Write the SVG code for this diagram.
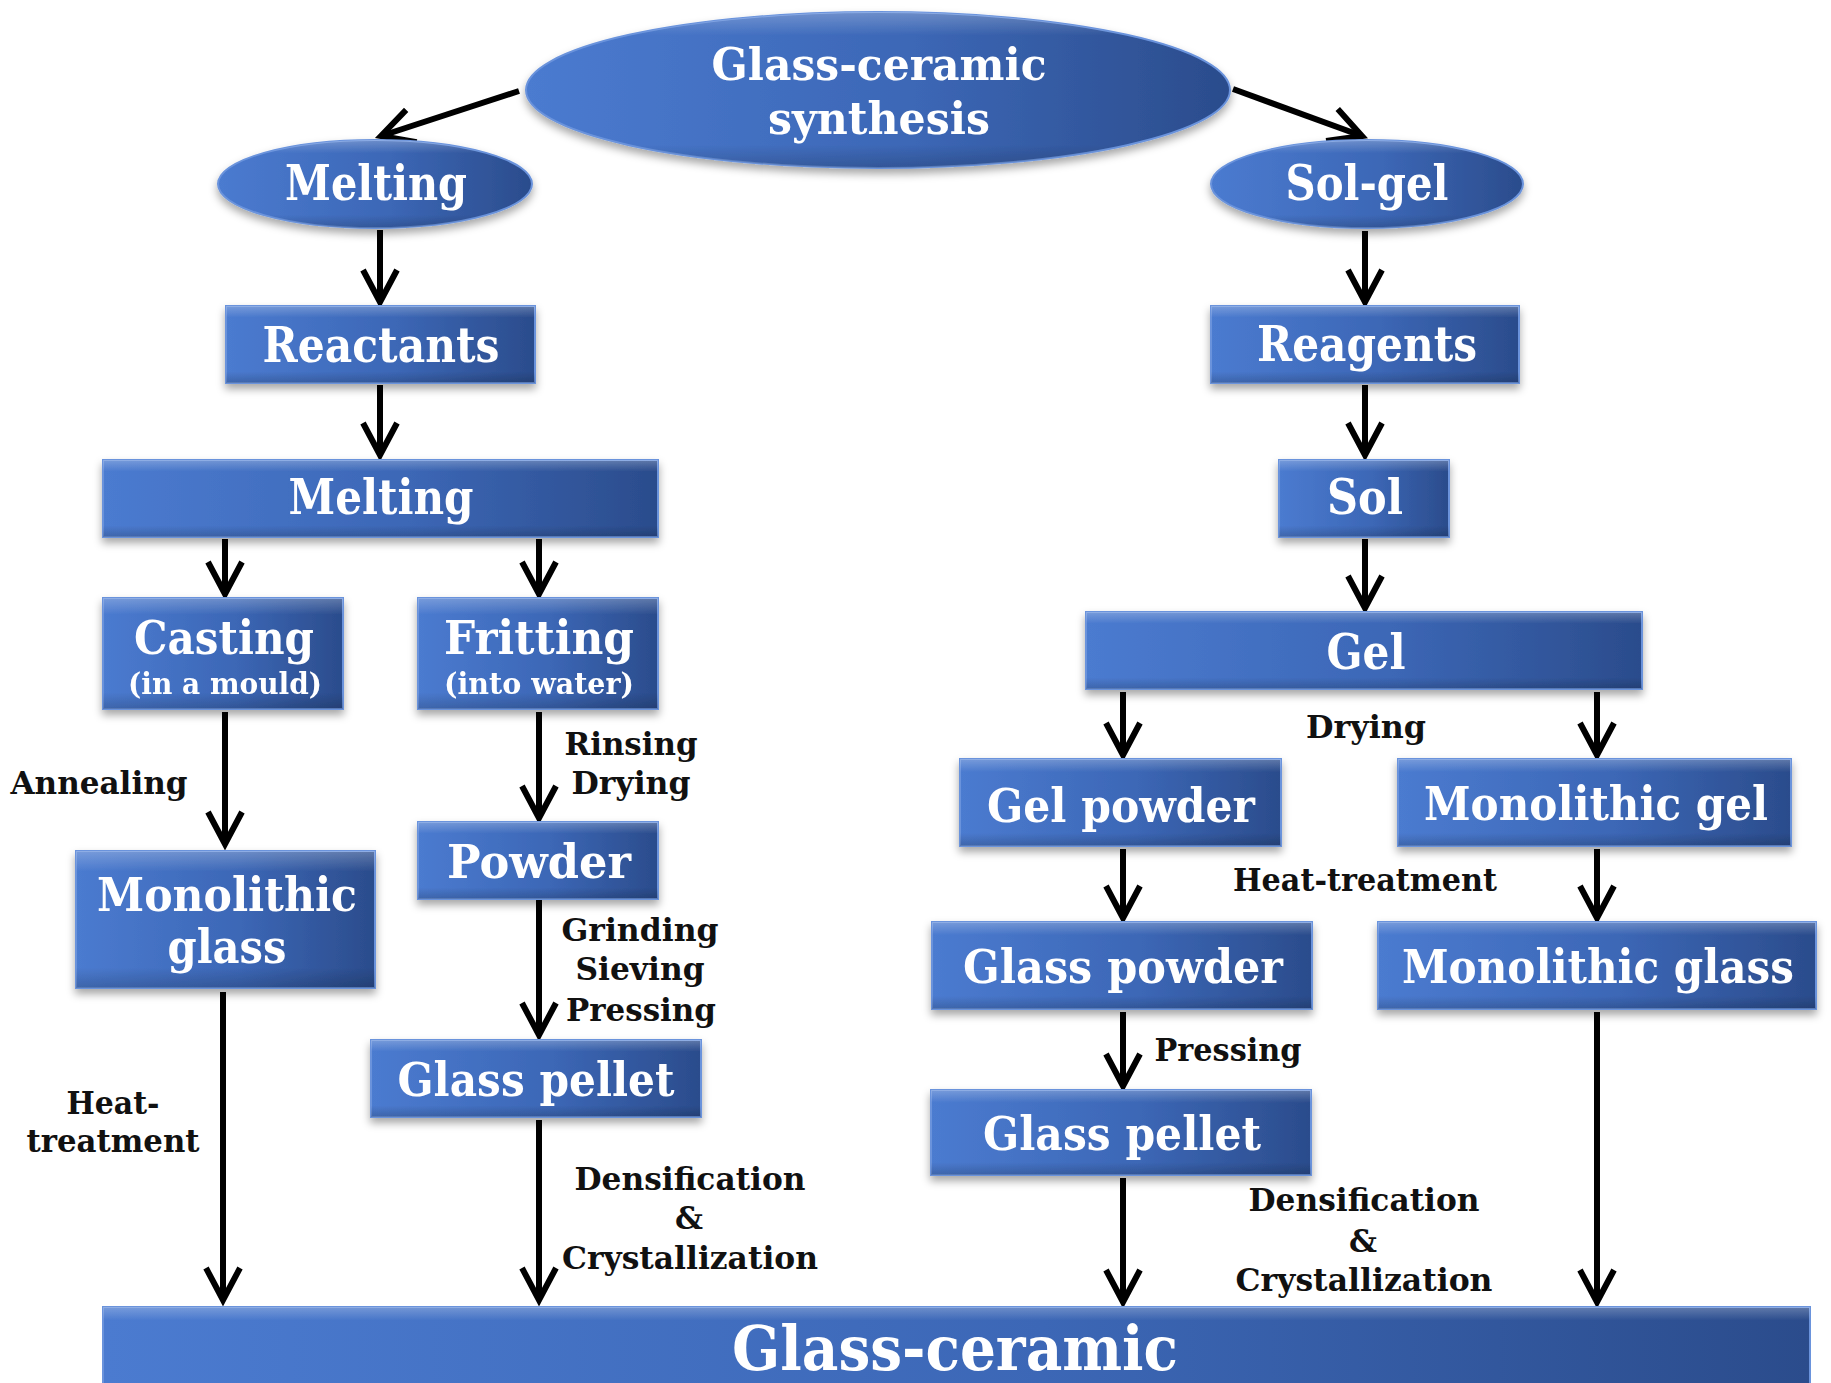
<svg xmlns="http://www.w3.org/2000/svg" width="1831" height="1383" viewBox="0 0 1831 1383">
<style>
.node{fill:url(#blue);stroke:#6a93dc;stroke-width:2}
.nt{font-family:"DejaVu Serif","Liberation Serif",serif;font-weight:bold;fill:#ffffff;text-anchor:middle}
.lb{font-family:"DejaVu Serif","Liberation Serif",serif;font-weight:bold;fill:#111111;text-anchor:middle;font-size:31px}
.cn{stroke:#000;stroke-width:6;fill:none;marker-end:url(#arr)}
</style>
<defs>
<linearGradient id="blue" x1="0" y1="0" x2="1" y2="0">
<stop offset="0" stop-color="#4b7bd0"/>
<stop offset="0.55" stop-color="#3c67b6"/>
<stop offset="1" stop-color="#2b4c8c"/>
</linearGradient>
<linearGradient id="hl" x1="0" y1="0" x2="0" y2="1">
<stop offset="0" stop-color="#ffffff" stop-opacity="0.25"/>
<stop offset="0.15" stop-color="#ffffff" stop-opacity="0"/>
<stop offset="0.85" stop-color="#000000" stop-opacity="0"/>
<stop offset="1" stop-color="#000000" stop-opacity="0.18"/>
</linearGradient>
<filter id="sh" x="-10%" y="-10%" width="120%" height="140%">
<feDropShadow dx="0" dy="5" stdDeviation="4" flood-color="#000" flood-opacity="0.35"/>
</filter>
<marker id="arr" markerUnits="userSpaceOnUse" markerWidth="60" markerHeight="60" viewBox="-40 -30 50 60" refX="0" refY="0" orient="auto">
<path d="M -32 -17 L 0 0 L -32 17" fill="none" stroke="#000" stroke-width="6" stroke-linejoin="miter"/>
</marker>
</defs>
<rect width="1831" height="1383" fill="#ffffff"/>

<g id="connectors">
<line class="cn" x1="519" y1="91" x2="381" y2="136"/>
<line class="cn" x1="1233" y1="89" x2="1362" y2="136"/>
<line class="cn" x1="380" y1="230" x2="380" y2="302"/>
<line class="cn" x1="380" y1="385" x2="380" y2="455"/>
<line class="cn" x1="225" y1="539" x2="225" y2="594"/>
<line class="cn" x1="539" y1="539" x2="539" y2="594"/>
<line class="cn" x1="225" y1="712" x2="225" y2="844"/>
<line class="cn" x1="539" y1="712" x2="539" y2="818"/>
<line class="cn" x1="539" y1="900" x2="539" y2="1035"/>
<line class="cn" x1="223" y1="992" x2="223" y2="1300"/>
<line class="cn" x1="539" y1="1120" x2="539" y2="1300"/>
<line class="cn" x1="1365" y1="231" x2="1365" y2="302"/>
<line class="cn" x1="1365" y1="385" x2="1365" y2="455"/>
<line class="cn" x1="1365" y1="539" x2="1365" y2="608"/>
<line class="cn" x1="1123" y1="692" x2="1123" y2="755"/>
<line class="cn" x1="1597" y1="692" x2="1597" y2="755"/>
<line class="cn" x1="1123" y1="849" x2="1123" y2="918"/>
<line class="cn" x1="1597" y1="849" x2="1597" y2="918"/>
<line class="cn" x1="1123" y1="1012" x2="1123" y2="1086"/>
<line class="cn" x1="1123" y1="1178" x2="1123" y2="1302"/>
<line class="cn" x1="1597" y1="1012" x2="1597" y2="1302"/>
</g>

<g id="labels">
<text class="lb" x="99" y="794" textLength="177" lengthAdjust="spacingAndGlyphs">Annealing</text>
<text class="lb" x="631" y="755" textLength="133" lengthAdjust="spacingAndGlyphs">Rinsing</text>
<text class="lb" x="631" y="794" textLength="119" lengthAdjust="spacingAndGlyphs">Drying</text>
<text class="lb" x="640" y="941" textLength="157" lengthAdjust="spacingAndGlyphs">Grinding</text>
<text class="lb" x="640" y="980" textLength="129" lengthAdjust="spacingAndGlyphs">Sieving</text>
<text class="lb" x="641" y="1021" textLength="150" lengthAdjust="spacingAndGlyphs">Pressing</text>
<text class="lb" x="113" y="1114" textLength="93" lengthAdjust="spacingAndGlyphs">Heat-</text>
<text class="lb" x="113" y="1152" textLength="173" lengthAdjust="spacingAndGlyphs">treatment</text>
<text class="lb" x="690" y="1190" textLength="231" lengthAdjust="spacingAndGlyphs">Densification</text>
<text class="lb" x="689" y="1229">&amp;</text>
<text class="lb" x="690" y="1269" textLength="256" lengthAdjust="spacingAndGlyphs">Crystallization</text>
<text class="lb" x="1366" y="738" textLength="120" lengthAdjust="spacingAndGlyphs">Drying</text>
<text class="lb" x="1365" y="891" textLength="264" lengthAdjust="spacingAndGlyphs">Heat-treatment</text>
<text class="lb" x="1228" y="1061" textLength="147" lengthAdjust="spacingAndGlyphs">Pressing</text>
<text class="lb" x="1364" y="1211" textLength="231" lengthAdjust="spacingAndGlyphs">Densification</text>
<text class="lb" x="1363" y="1252">&amp;</text>
<text class="lb" x="1364" y="1291" textLength="257" lengthAdjust="spacingAndGlyphs">Crystallization</text>
</g>

<g id="n-synthesis" filter="url(#sh)">
<ellipse class="node" cx="878" cy="90" rx="352" ry="78"/>
<ellipse cx="878" cy="90" rx="352" ry="78" fill="url(#hl)"/>
<text class="nt" x="879" y="80" font-size="45" textLength="335" lengthAdjust="spacingAndGlyphs">Glass-ceramic</text>
<text class="nt" x="879" y="134" font-size="45" textLength="222" lengthAdjust="spacingAndGlyphs">synthesis</text>
</g>
<g id="n-melting-ell" filter="url(#sh)">
<ellipse class="node" cx="375" cy="184" rx="157" ry="44"/>
<ellipse cx="375" cy="184" rx="157" ry="44" fill="url(#hl)"/>
<text class="nt" x="376" y="200" font-size="48" textLength="182" lengthAdjust="spacingAndGlyphs">Melting</text>
</g>
<g id="n-solgel-ell" filter="url(#sh)">
<ellipse class="node" cx="1367" cy="184" rx="156" ry="44"/>
<ellipse cx="1367" cy="184" rx="156" ry="44" fill="url(#hl)"/>
<text class="nt" x="1367" y="200" font-size="48" textLength="163" lengthAdjust="spacingAndGlyphs">Sol-gel</text>
</g>
<g id="n-reactants" filter="url(#sh)">
<rect class="node" x="226" y="306" width="309" height="77"/>
<rect x="226" y="306" width="309" height="77" fill="url(#hl)"/>
<text class="nt" x="381" y="362" font-size="48" textLength="237" lengthAdjust="spacingAndGlyphs">Reactants</text>
</g>
<g id="n-reagents" filter="url(#sh)">
<rect class="node" x="1211" y="306" width="308" height="77"/>
<rect x="1211" y="306" width="308" height="77" fill="url(#hl)"/>
<text class="nt" x="1367" y="361" font-size="48" textLength="220" lengthAdjust="spacingAndGlyphs">Reagents</text>
</g>
<g id="n-melting" filter="url(#sh)">
<rect class="node" x="103" y="460" width="555" height="77"/>
<rect x="103" y="460" width="555" height="77" fill="url(#hl)"/>
<text class="nt" x="381" y="514" font-size="48" textLength="185" lengthAdjust="spacingAndGlyphs">Melting</text>
</g>
<g id="n-sol" filter="url(#sh)">
<rect class="node" x="1279" y="460" width="170" height="77"/>
<rect x="1279" y="460" width="170" height="77" fill="url(#hl)"/>
<text class="nt" x="1365" y="514" font-size="48" textLength="76" lengthAdjust="spacingAndGlyphs">Sol</text>
</g>
<g id="n-casting" filter="url(#sh)">
<rect class="node" x="103" y="598" width="240" height="111"/>
<rect x="103" y="598" width="240" height="111" fill="url(#hl)"/>
<text class="nt" x="224" y="654" font-size="46" textLength="180" lengthAdjust="spacingAndGlyphs">Casting</text>
<text class="nt" x="225" y="694" font-size="29" textLength="194" lengthAdjust="spacingAndGlyphs">(in a mould)</text>
</g>
<g id="n-fritting" filter="url(#sh)">
<rect class="node" x="418" y="598" width="240" height="111"/>
<rect x="418" y="598" width="240" height="111" fill="url(#hl)"/>
<text class="nt" x="539" y="654" font-size="46" textLength="190" lengthAdjust="spacingAndGlyphs">Fritting</text>
<text class="nt" x="539" y="694" font-size="29" textLength="190" lengthAdjust="spacingAndGlyphs">(into water)</text>
</g>
<g id="n-gel" filter="url(#sh)">
<rect class="node" x="1086" y="612" width="556" height="77"/>
<rect x="1086" y="612" width="556" height="77" fill="url(#hl)"/>
<text class="nt" x="1366" y="669" font-size="48" textLength="79" lengthAdjust="spacingAndGlyphs">Gel</text>
</g>
<g id="n-gel-powder" filter="url(#sh)">
<rect class="node" x="960" y="759" width="321" height="87"/>
<rect x="960" y="759" width="321" height="87" fill="url(#hl)"/>
<text class="nt" x="1121" y="822" font-size="46" textLength="268" lengthAdjust="spacingAndGlyphs">Gel powder</text>
</g>
<g id="n-monolithic-gel" filter="url(#sh)">
<rect class="node" x="1398" y="759" width="393" height="87"/>
<rect x="1398" y="759" width="393" height="87" fill="url(#hl)"/>
<text class="nt" x="1596" y="820" font-size="46" textLength="344" lengthAdjust="spacingAndGlyphs">Monolithic gel</text>
</g>
<g id="n-monolithic-glass-l" filter="url(#sh)">
<rect class="node" x="76" y="851" width="299" height="137"/>
<rect x="76" y="851" width="299" height="137" fill="url(#hl)"/>
<text class="nt" x="227" y="911" font-size="46" textLength="260" lengthAdjust="spacingAndGlyphs">Monolithic</text>
<text class="nt" x="227" y="963" font-size="46" textLength="119" lengthAdjust="spacingAndGlyphs">glass</text>
</g>
<g id="n-powder" filter="url(#sh)">
<rect class="node" x="418" y="822" width="240" height="77"/>
<rect x="418" y="822" width="240" height="77" fill="url(#hl)"/>
<text class="nt" x="539" y="878" font-size="46" textLength="184" lengthAdjust="spacingAndGlyphs">Powder</text>
</g>
<g id="n-glass-powder" filter="url(#sh)">
<rect class="node" x="932" y="922" width="380" height="87"/>
<rect x="932" y="922" width="380" height="87" fill="url(#hl)"/>
<text class="nt" x="1123" y="983" font-size="46" textLength="320" lengthAdjust="spacingAndGlyphs">Glass powder</text>
</g>
<g id="n-monolithic-glass-r" filter="url(#sh)">
<rect class="node" x="1378" y="922" width="438" height="87"/>
<rect x="1378" y="922" width="438" height="87" fill="url(#hl)"/>
<text class="nt" x="1598" y="983" font-size="46" textLength="392" lengthAdjust="spacingAndGlyphs">Monolithic glass</text>
</g>
<g id="n-glass-pellet-l" filter="url(#sh)">
<rect class="node" x="371" y="1040" width="330" height="77"/>
<rect x="371" y="1040" width="330" height="77" fill="url(#hl)"/>
<text class="nt" x="536" y="1096" font-size="46" textLength="277" lengthAdjust="spacingAndGlyphs">Glass pellet</text>
</g>
<g id="n-glass-pellet-r" filter="url(#sh)">
<rect class="node" x="931" y="1090" width="380" height="85"/>
<rect x="931" y="1090" width="380" height="85" fill="url(#hl)"/>
<text class="nt" x="1122" y="1150" font-size="46" textLength="278" lengthAdjust="spacingAndGlyphs">Glass pellet</text>
</g>
<g id="n-glass-ceramic">
<rect class="node" x="103" y="1307" width="1707" height="90"/>
<rect x="103" y="1307" width="1707" height="90" fill="url(#hl)"/>
<text class="nt" x="955" y="1370" font-size="62" textLength="446" lengthAdjust="spacingAndGlyphs">Glass-ceramic</text>
</g>
</svg>
